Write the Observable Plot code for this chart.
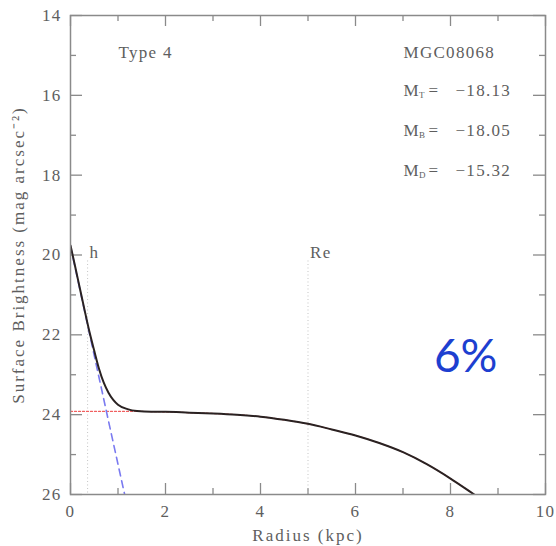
<!DOCTYPE html>
<html>
<head>
<meta charset="utf-8">
<script src="https://cdn.jsdelivr.net/npm/d3@7"></script>
<script src="https://cdn.jsdelivr.net/npm/@observablehq/plot@0.6"></script>
<style>
  html, body { margin: 0; padding: 0; background: #fff; }
  #chart svg text { letter-spacing: 1.3px; }
  #chart svg g.axis-title text { letter-spacing: 2px; }
  #chart svg g.pct text { letter-spacing: 0; }
</style>
</head>
<body>
<div id="chart"></div>
<script>
// ---- Data ----
const totalR  = [0, 0.1, 0.2, 0.3, 0.4, 0.5, 0.6, 0.7, 0.8, 0.9, 1.0, 1.2, 1.4, 1.7, 2.0, 2.5, 3.0, 3.5, 4.0, 4.5, 5.0, 5.5, 6.0, 6.5, 7.0, 7.5, 8.0, 8.5, 8.6];
const totalMu = [19.76, 20.3, 20.85, 21.4, 21.93, 22.4, 22.85, 23.2, 23.45, 23.63, 23.75, 23.86, 23.91, 23.93, 23.93, 23.95, 23.97, 24.0, 24.05, 24.13, 24.23, 24.37, 24.52, 24.71, 24.94, 25.24, 25.6, 26.0, 26.08];

const diskR  = [0, 0.5, 1.0, 1.5, 2.0, 2.5, 3.0, 3.5, 4.0, 4.5, 5.0, 5.5, 6.0, 6.5, 7.0, 7.5, 8.0, 8.5, 8.6];
const diskMu = [23.92, 23.92, 23.92, 23.92, 23.93, 23.95, 23.97, 24.0, 24.05, 24.13, 24.23, 24.37, 24.52, 24.71, 24.94, 25.24, 25.6, 26.0, 26.08];

const bulgeR  = [0, 0.4, 0.8, 1.14, 1.2];
const bulgeMu = [19.78, 21.97, 24.16, 26.0, 26.3];

const markerNames = ["h", "Re"];
const markerR = [0.36, 5.0];
const markerTop = [20.15, 20.15];

const xMajor = [0, 2, 4, 6, 8, 10];
const xMinor = [1, 3, 5, 7, 9];
const yMajor = [14, 16, 18, 20, 22, 24, 26];
const yMinor = [15, 17, 19, 21, 23, 25];

const typeLabel = "Type 4";
const galaxyName = "MGC08068";
const magSubs = ["T", "B", "D"];
const magValues = ["\u221218.13", "\u221218.05", "\u221215.32"];
const percentLabel = "6%";

// ---- Build tables ----
const total = totalR.map((r, i) => ({r, mu: totalMu[i]}));
const disk = diskR.map((r, i) => ({r, mu: diskMu[i]}));
const bulge = bulgeR.map((r, i) => ({r, mu: bulgeMu[i]}));
const markers = markerNames.map((name, i) => ({name, r: markerR[i], top: markerTop[i]}));
const mags = magSubs.map((s, i) => ({sub: s, val: magValues[i], y: 15.88 + i}));

const W = 556, H = 546;
const mL = 70, mR = 11, mT = 15, mB = 52;
const fw = W - mL - mR, fh = H - mT - mB;
const grey = "#8a8a8a";
const txt = "#5e5e5e";
const font = "Liberation Serif";

const chart = Plot.plot({
  width: W,
  height: H,
  marginLeft: mL, marginRight: mR, marginTop: mT, marginBottom: mB,
  style: {fontFamily: font, fontSize: "17px", color: txt, background: "#fff", overflow: "visible"},
  x: {domain: [0, 10]},
  y: {domain: [14, 26], reverse: true},
  marks: [
    // tick labels
    Plot.axisX({ticks: xMajor, tickSize: 0, tickPadding: 10, label: null, tickFormat: d => String(d), fill: txt, fontSize: 17}),
    Plot.axisY({ticks: yMajor, tickSize: 0, tickPadding: 9, label: null, tickFormat: d => String(d), fill: txt, fontSize: 17}),
    // inward ticks, all four sides
    Plot.ruleX(xMajor, {x: d => d, insetTop: fh - 11, stroke: grey, strokeWidth: 1.3}),
    Plot.ruleX(xMajor, {x: d => d, insetBottom: fh - 11, stroke: grey, strokeWidth: 1.3}),
    Plot.ruleX(xMinor, {x: d => d, insetTop: fh - 6, stroke: grey, strokeWidth: 1.3}),
    Plot.ruleX(xMinor, {x: d => d, insetBottom: fh - 6, stroke: grey, strokeWidth: 1.3}),
    Plot.ruleY(yMajor, {y: d => d, insetRight: fw - 12, stroke: grey, strokeWidth: 1.3}),
    Plot.ruleY(yMajor, {y: d => d, insetLeft: fw - 12, stroke: grey, strokeWidth: 1.3}),
    Plot.ruleY(yMinor, {y: d => d, insetRight: fw - 6, stroke: grey, strokeWidth: 1.3}),
    Plot.ruleY(yMinor, {y: d => d, insetLeft: fw - 6, stroke: grey, strokeWidth: 1.3}),
    // vertical marker lines
    Plot.ruleX(markers, {x: "r", y1: "top", y2: 26, stroke: "#c4c4c4", strokeDasharray: "1,2.5", strokeWidth: 1}),
    Plot.text(markers, {x: "r", y: 19.94, text: "name", textAnchor: "start", dx: 2, fill: txt, fontSize: 17}),
    // components
    Plot.line(disk, {x: "r", y: "mu", stroke: "#f06060", strokeWidth: 1.2, strokeDasharray: "2,2", curve: "monotone-x", clip: true}),
    Plot.line(bulge, {x: "r", y: "mu", stroke: "#7a7af0", strokeWidth: 1.6, strokeDasharray: "7,5", clip: true}),
    Plot.line(total, {x: "r", y: "mu", stroke: "#2a2222", strokeWidth: 2, curve: "monotone-x", clip: true}),
    // frame
    Plot.frame({stroke: grey, strokeWidth: 1.5}),
    // axis titles
    Plot.text(["Radius (kpc)"], {frameAnchor: "bottom", dy: 41, lineAnchor: "middle", textAnchor: "middle", text: d => d, fill: txt, fontSize: 17, className: "axis-title"}),
    Plot.text(["Surface Brightness (mag arcsec\u207B\u00B2)"], {frameAnchor: "left", dx: -52, rotate: -90, textAnchor: "middle", lineAnchor: "middle", text: d => d, fill: txt, fontSize: 17, className: "axis-title"}),
    // annotations
    Plot.text([typeLabel], {x: 1.01, y: 14.93, text: d => d, textAnchor: "start", fill: txt, fontSize: 17}),
    Plot.text([galaxyName], {x: 7.01, y: 14.93, text: d => d, textAnchor: "start", fill: txt, fontSize: 17}),
    Plot.text(mags, {x: 7.01, y: "y", text: () => "M", textAnchor: "start", fill: txt, fontSize: 17}),
    Plot.text(mags, {x: 7.01, y: "y", text: "sub", dx: 15.5, dy: 5, textAnchor: "start", fill: txt, fontSize: 9}),
    Plot.text(mags, {x: 7.01, y: "y", text: () => "=", dx: 25, textAnchor: "start", fill: txt, fontSize: 17}),
    Plot.text(mags, {x: 7.01, y: "y", text: "val", dx: 52, textAnchor: "start", fill: txt, fontSize: 17}),
    Plot.text([percentLabel], {x: 8.32, y: 22.57, text: d => d, textAnchor: "middle", fill: "#1d3fd0", fontSize: 46, fontFamily: "Lato", className: "pct"})
  ]
});
document.getElementById("chart").appendChild(chart);
</script>
</body>
</html>
